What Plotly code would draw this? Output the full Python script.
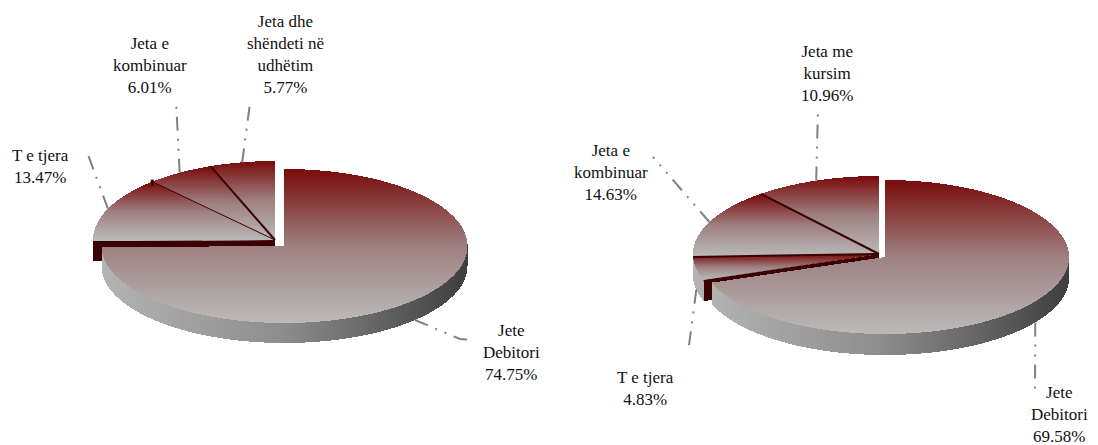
import numpy as np
import plotly.graph_objects as go

# left pie, clockwise from 12 o'clock
left_labels = ["Jete<br>Debitori", "T e tjera", "Jeta e<br>kombinuar", "Jeta dhe<br>shëndeti në<br>udhëtim"]
left_values = [74.75, 13.47, 6.01, 5.77]

# right pie
right_labels = ["Jete<br>Debitori", "T e tjera", "Jeta e<br>kombinuar", "Jeta me<br>kursim"]
right_values = [69.58, 4.83, 14.63, 10.96]

TOP_SCALE = [[0, "#7a0b0b"], [0.5, "#9e8080"], [1, "#bababa"]]
WALL_SCALE = [[0, "#b4b4b4"], [0.5, "#8c8c8c"], [1, "#3e3e3e"]]
CUT = "#3a0202"
CUT_SCALE = [[0, CUT], [1, CUT]]
LEADER = "#808080"
DASH = "14px,8px,2px,8px,2px,8px"

W, H = 1098, 445
px = np.arange(W) + 0.5
py_ = np.arange(H) + 0.5
XX, YY = np.meshgrid(px, py_)


def edge(cx, cy, rx, ry, deg):
    t = np.radians(deg)
    return cx + rx * np.sin(t), cy - ry * np.cos(t)


def crop_heatmap(z, mask, scale):
    """Heatmap of z where mask is set, cropped to the mask's box"""
    rows = np.where(mask.any(axis=1))[0]
    cols = np.where(mask.any(axis=0))[0]
    r0, r1, c0, c1 = rows[0], rows[-1] + 1, cols[0], cols[-1] + 1
    zz = np.where(mask, z, np.nan)[r0:r1, c0:c1]
    return go.Heatmap(z=zz.round(3).tolist(), x0=c0 + 0.5, dx=1, y0=r0 + 0.5, dy=1, zmin=0, zmax=1,
                      colorscale=scale, showscale=False, hoverinfo="skip")


def slice_top(cx, cy, rx, ry, start, end):
    dx, dy = (XX - cx) / rx, (YY - cy) / ry
    ang = np.degrees(np.arctan2(dx, -dy)) % 360
    mask = (dx ** 2 + dy ** 2 <= 1) & (ang >= start) & (ang < end)
    ys = YY[mask]
    return crop_heatmap((YY - ys.min()) / (ys.max() - ys.min()), mask, TOP_SCALE)


def slice_wall(cx, cy, rx, ry, depth, start, end):
    """Outer rim of the part of a slice that faces the viewer"""
    a, b = max(start, 90), min(end, 270)
    if b <= a:
        return None
    x_right = edge(cx, cy, rx, ry, a)[0]
    x_left = edge(cx, cy, rx, ry, b)[0]
    dx = np.clip((XX - cx) / rx, -1, 1)
    rim = cy + ry * np.sqrt(1 - dx ** 2)
    mask = (XX >= x_left) & (XX <= x_right) & (YY >= rim - 2) & (YY <= rim + depth)
    if not mask.any():
        return None
    return crop_heatmap((XX - (cx - rx)) / (2 * rx), mask, WALL_SCALE)


def cut_face(cx, cy, ex, ey, depth):
    # heatmaps always sit under scatter traces, so the face has to be one too
    line_y = cy + (XX - cx) * (ey - cy) / (ex - cx)
    mask = (XX >= ex) & (XX <= cx) & (YY >= line_y) & (YY <= line_y + depth)
    return crop_heatmap(np.zeros_like(XX), mask, CUT_SCALE)


def add_pie(fig, labels, values, main, rest, depth, sep_widths, outer, notch=0):
    cum = np.cumsum([0] + values) * 3.6
    mx, my, mrx, mry = main
    gx, gy, grx, gry = rest

    # cut face of the pulled-out group, the main slice paints over most of it
    ex, ey = edge(gx, gy, grx, gry, cum[1])
    fig.add_trace(cut_face(gx, gy + 1, ex, ey, depth))
    for i in range(1, len(values)):
        wall = slice_wall(gx, gy, grx, gry, depth, cum[i], cum[i + 1])
        if wall is not None:
            fig.add_trace(wall)
    for i in range(1, len(values)):
        fig.add_trace(slice_top(gx, gy, grx, gry, cum[i], cum[i + 1]))
    for i, width in zip(range(2, len(values)), sep_widths):
        sx, sy = edge(gx, gy, grx, gry, cum[i])
        fig.add_trace(go.Scatter(x=[gx, sx], y=[gy, sy], mode="lines", hoverinfo="skip",
                                 line=dict(color=CUT, width=width)))
    if notch:
        # small step where the first separator meets the rim
        sx, sy = edge(gx, gy, grx, gry, cum[2])
        fig.add_trace(go.Scatter(x=[sx, sx], y=[sy - 2, sy + notch - 2], mode="lines", hoverinfo="skip",
                                 line=dict(color=CUT, width=3)))
    # lower edge of the group, seen as a dark line
    fig.add_trace(go.Scatter(x=[gx, ex], y=[gy + 1, ey + 1], mode="lines", hoverinfo="skip",
                             line=dict(color=CUT, width=2)))

    fig.add_trace(slice_wall(mx, my, mrx, mry, depth, cum[0], cum[1]))
    fig.add_trace(slice_top(mx, my, mrx, mry, cum[0], cum[1]))

    # leaders run from the middle of each slice's arc
    for i, path in enumerate(outer):
        mid = (cum[i] + cum[i + 1]) / 2
        c = main if i == 0 else rest
        sx, sy = edge(c[0], c[1], c[2], c[3], mid)
        if 90 < mid < 270:
            sy += depth
        fig.add_trace(go.Scatter(x=[sx] + [p[0] for p in path], y=[sy] + [p[1] for p in path],
                                 mode="lines", hoverinfo="skip",
                                 line=dict(color=LEADER, width=2, dash=DASH)))


fig = go.Figure()
add_pie(fig, left_labels, left_values, (284.5, 246, 183, 77), (275, 240, 182, 79), 20, [1, 2],
        [[(460, 339), (472, 340)], [(87, 152)], [(176, 100)], [(250, 103)]], notch=6)
add_pie(fig, right_labels, right_values, (885, 257, 184, 77), (879, 254, 186, 78), 21, [2, 2],
        [[(1035, 393)], [(688, 353)], [(653, 157)], [(818, 108)]])

# label centres, same order as the values
left_pos = [(511, 352), (40, 166), (150, 65), (285, 54)]
right_pos = [(1059, 414), (645, 388), (611, 172), (827, 73)]

for labels, values, pos in [(left_labels, left_values, left_pos), (right_labels, right_values, right_pos)]:
    for lab, val, (x, y) in zip(labels, values, pos):
        fig.add_annotation(x=x, y=y, text="%s<br>%.2f%%" % (lab, val), showarrow=False, align="center",
                           xanchor="center", yanchor="middle",
                           font=dict(family="Liberation Serif", size=17, color="#111111"))

fig.update_layout(
    width=W, height=H,
    margin=dict(t=0, b=0, l=0, r=0),
    showlegend=False,
    paper_bgcolor="white",
    plot_bgcolor="white",
    xaxis=dict(range=[0, W], visible=False, fixedrange=True),
    yaxis=dict(range=[H, 0], visible=False, fixedrange=True),
)
fig.write_html("out.html", config=dict(displayModeBar=False),
               post_script="document.body.style.margin = '0'; document.body.style.overflow = 'hidden';")
